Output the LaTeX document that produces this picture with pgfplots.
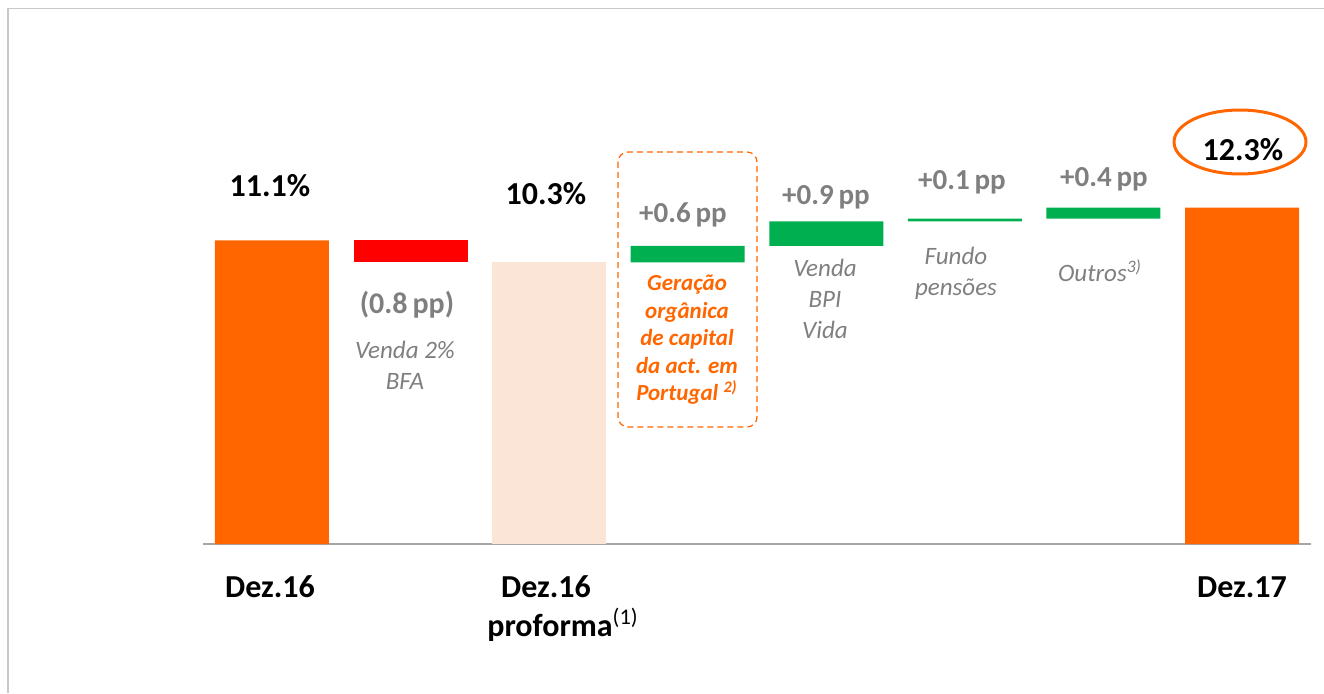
\documentclass[border=0pt]{standalone}
\usepackage{pgfplots}
\pgfplotsset{compat=1.18}
\usepackage{fontspec}
\setmainfont{Carlito}
\definecolor{cgo}{HTML}{FF6600}
\definecolor{cpeach}{HTML}{FBE5D6}
\definecolor{cred}{HTML}{FF0000}
\definecolor{cgreen}{HTML}{00B050}
\definecolor{cgraytxt}{HTML}{7F7F7F}
\definecolor{cframe}{HTML}{C8C8C8}
\definecolor{caxis}{HTML}{A6A6A6}
\begin{document}
\begin{tikzpicture}
\begin{scope}[x=0.5pt,y=-0.5pt,shift={(0pt,346.5pt)}]
  \useasboundingbox (0,0) rectangle (1324,693);
  \draw[cframe, line width=0.8pt] (8,693) -- (8,8.5) -- (1324,8.5);
\end{scope}
\begin{axis}[
  at={(101.35pt,74.5pt)}, anchor=south west,
  scale only axis, width=554.3pt, height=191.45pt,
  xmin=-0.5, xmax=7.5, ymin=0, ymax=14,
  hide axis, clip=false,
  ybar stacked, bar width=57pt,
]
\addplot[draw=none, fill=none] coordinates {(0,0)(1,10.3)(2,0)(3,10.3)(4,10.9)(5,11.8)(6,11.9)(7,0)};
\addplot[draw=none, fill=cgo] coordinates {(0,11.1)(1,0)(2,0)(3,0)(4,0)(5,0)(6,0)(7,12.3)};
\addplot[draw=none, fill=cred] coordinates {(0,0)(1,0.8)(2,0)(3,0)(4,0)(5,0)(6,0)(7,0)};
\addplot[draw=none, fill=cpeach] coordinates {(0,0)(1,0)(2,10.3)(3,0)(4,0)(5,0)(6,0)(7,0)};
\addplot[draw=none, fill=cgreen] coordinates {(0,0)(1,0)(2,0)(3,0.6)(4,0.9)(5,0.1)(6,0.4)(7,0)};
\draw[caxis, line width=0.8pt] (axis cs:-0.5,0) -- (axis cs:7.5,0);
\end{axis}
\begin{scope}[x=0.5pt,y=-0.5pt,shift={(0pt,346.5pt)}]
  % value labels
  \node[font=\fontsize{16}{19}\selectfont\bfseries] at (270,186) {11.1\%};
  \node[font=\fontsize{16}{19}\selectfont\bfseries] at (546,194) {10.3\%};
  \node[font=\fontsize{16}{19}\selectfont\bfseries] at (1243,150) {12.3\%};
  \draw[cgo, line width=1.5pt] (1240,142) ellipse [x radius=66, y radius=32];
  \node[font=\fontsize{15}{18}\selectfont\bfseries, text=cgraytxt] at (407,305) {(0.8\,pp)};
  \node[font=\fontsize{14.5}{17}\selectfont\bfseries, text=cgraytxt] at (683,215) {+0.6\,pp};
  \node[font=\fontsize{14.5}{17}\selectfont\bfseries, text=cgraytxt] at (826,197) {+0.9\,pp};
  \node[font=\fontsize{14.5}{17}\selectfont\bfseries, text=cgraytxt] at (962,182) {+0.1\,pp};
  \node[font=\fontsize{14.5}{17}\selectfont\bfseries, text=cgraytxt] at (1104,179) {+0.4\,pp};
  % descriptions
  \node[font=\fontsize{12.5}{15.5}\selectfont\itshape, text=cgraytxt, align=center, anchor=north] at (405,334) {Venda 2\%\\BFA};
  \node[font=\fontsize{12.5}{15.5}\selectfont\itshape, text=cgraytxt, align=center, anchor=north] at (825,252) {Venda\\BPI\\Vida};
  \node[font=\fontsize{12.5}{15.5}\selectfont\itshape, text=cgraytxt, align=center, anchor=north] at (956,240) {Fundo\\pensões};
  \node[font=\fontsize{12.5}{15.5}\selectfont\itshape, text=cgraytxt, anchor=north] at (1100,253) {Outros\textsuperscript{3)}};
  \node[font=\fontsize{11.5}{13.75}\selectfont\bfseries\itshape, text=cgo, align=center, anchor=north] at (687,268) {Geração\\orgânica\\de capital\\da act. em\\Portugal \textsuperscript{2)}};
  \draw[cgo, line width=0.6pt, dash pattern=on 3pt off 2pt, rounded corners=5pt] (618,152) rectangle (757,427);
  % category labels
  \node[font=\fontsize{16}{19}\selectfont\bfseries] at (270,587) {Dez.16};
  \node[font=\fontsize{16}{19}\selectfont\bfseries] at (546,587) {Dez.16};
  \node[font=\fontsize{16}{19}\selectfont\bfseries] at (563,625) {proforma{\mdseries\textsuperscript{(1)}}};
  \node[font=\fontsize{16}{19}\selectfont\bfseries] at (1242,587) {Dez.17};
\end{scope}
\end{tikzpicture}
\end{document}
